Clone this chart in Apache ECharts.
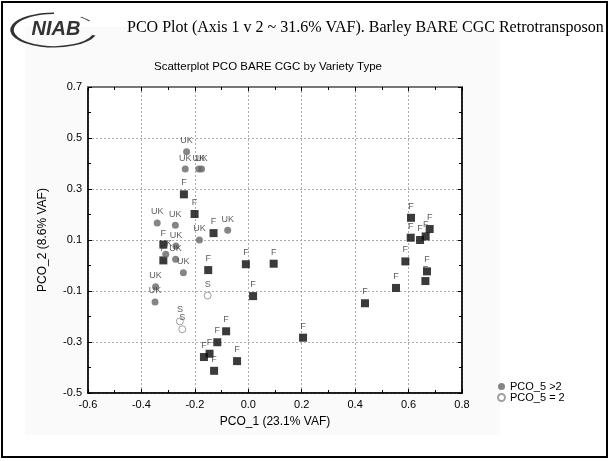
<!DOCTYPE html>
<html><head><meta charset="utf-8">
<script src="https://cdn.jsdelivr.net/npm/echarts@6/dist/echarts.min.js"></script>
<style>html,body{margin:0;padding:0;background:#fff}#c{width:610px;height:461px}</style>
</head><body><div id="c"></div>
<script>
// UK points (PCO_5 > 2)
const ukX = [-0.231,-0.236,-0.185,-0.175,-0.341,-0.273,-0.077,-0.183,-0.271,-0.309,-0.272,-0.243,-0.347,-0.349];
const ukY = [0.446,0.378,0.378,0.378,0.167,0.158,0.138,0.100,0.076,0.044,0.025,-0.028,-0.083,-0.143];
// F points
const fX = [-0.241,-0.201,-0.130,-0.318,-0.318,-0.150,-0.009,0.095,0.018,-0.083,-0.116,0.205,-0.145,-0.166,-0.042,-0.128,0.609,0.608,0.643,0.664,0.679,0.588,0.669,0.663,0.553,0.437];
const fY = [0.279,0.202,0.127,0.082,0.020,-0.018,0.005,0.007,-0.120,-0.258,-0.301,-0.283,-0.346,-0.359,-0.375,-0.413,0.187,0.109,0.100,0.114,0.143,0.016,-0.023,-0.061,-0.088,-0.148];
// S points (PCO_5 = 2)
const sX = [-0.152,-0.256,-0.247];
const sY = [-0.118,-0.219,-0.250];
const legendNames = ['PCO_5 >2','PCO_5 = 2'];
const titleText = 'PCO Plot (Axis 1 v 2 ~ 31.6% VAF). Barley BARE CGC Retrotransposon';
const chartTitle = 'Scatterplot PCO BARE CGC by Variety Type';
const xName = 'PCO_1 (23.1% VAF)';
const yName = 'PCO_2 (8.6% VAF)';

const zip = (a,b)=>a.map((v,i)=>[v,b[i]]);
const font = 'Liberation Sans, Arial, sans-serif';
const lbl = (t)=>({show:true,formatter:t,position:'top',distance:3,fontSize:9,color:'#333',fontFamily:font});

const chart = echarts.init(document.getElementById('c'),null,{renderer:'canvas'});
const tick = {show:true,inside:true,length:4,lineStyle:{color:'#000'}};
const minor = {show:true,splitNumber:2,length:3,lineStyle:{color:'#000'}};
const grid = {show:true,lineStyle:{color:'#aaa',type:[2,2],width:1}};
chart.setOption({
  animation:false,
  graphic:[
    {type:'rect',shape:{x:2,y:2,width:605,height:455},style:{fill:'#fff',stroke:'#000',lineWidth:2},z:-10},
    {type:'rect',shape:{x:25,y:27,width:475,height:408},style:{fill:'#fafafa'},z:-9},
    {type:'arc',x:54,y:30,scaleY:0.4,shape:{cx:0,cy:0,r:42,startAngle:Math.PI*0.1,endAngle:Math.PI*1.5},style:{stroke:'#333',lineWidth:3.5,fill:null},z:5},
    {type:'arc',x:54,y:30,scaleY:0.4,shape:{cx:0,cy:0,r:42,startAngle:Math.PI*1.72,endAngle:Math.PI*1.82},style:{stroke:'#444',lineWidth:2,fill:null},z:5},
    {type:'text',x:56,y:29,style:{text:'NIAB',font:'italic 900 20px Liberation Sans, Arial, sans-serif',fill:'#333',textAlign:'center',textVerticalAlign:'middle'},z:6},
    {type:'text',x:127,y:28,style:{text:titleText,font:'16px Liberation Serif, Times New Roman, serif',fill:'#000',textVerticalAlign:'middle'}},
    {type:'text',x:268,y:67,style:{text:chartTitle,font:'11.5px '+font,fill:'#000',textAlign:'center',textVerticalAlign:'middle'}}
  ],
  grid:{left:88,right:148,top:87,bottom:68,show:true,borderColor:'#777',borderWidth:2,backgroundColor:'#fff'},
  legend:{
    data:legendNames,orient:'vertical',left:492,top:376,itemWidth:7,itemHeight:7,itemGap:0,
    textStyle:{fontSize:11,fontFamily:font,color:'#000',lineHeight:10}
  },
  xAxis:[
    {type:'value',min:-0.6,max:0.8,interval:0.2,position:'bottom',
      axisLine:{show:true,onZero:false,lineStyle:{color:'#000',width:1.5}},axisTick:tick,minorTick:minor,splitLine:grid,
      name:xName,nameLocation:'middle',nameGap:23,nameTextStyle:{fontSize:12,fontFamily:font,color:'#000'},
      axisLabel:{color:'#000',fontSize:11,fontFamily:font,margin:6,formatter:v=>v.toFixed(1)}},
    {type:'value',min:-0.6,max:0.8,interval:0.2,position:'top',
      axisLine:{show:true,onZero:false,lineStyle:{color:'#777',width:2}},axisTick:tick,minorTick:minor,axisLabel:{show:false},splitLine:{show:false}}
  ],
  yAxis:[
    {type:'value',min:-0.5,max:0.7,interval:0.2,position:'left',
      axisLine:{show:true,onZero:false,lineStyle:{color:'#000',width:1.5}},axisTick:tick,minorTick:minor,splitLine:grid,
      name:yName,nameLocation:'middle',nameGap:39,nameTextStyle:{fontSize:12,fontFamily:font,color:'#000'},
      axisLabel:{color:'#000',fontSize:11,fontFamily:font,margin:6,formatter:v=>v.toFixed(1)}},
    {type:'value',min:-0.5,max:0.7,interval:0.2,position:'right',
      axisLine:{show:true,onZero:false,lineStyle:{color:'#000',width:1.5}},axisTick:tick,minorTick:minor,axisLabel:{show:false},splitLine:{show:false}}
  ],
  series:[
    {name:'F',type:'scatter',data:zip(fX,fY),symbol:'rect',symbolSize:8,itemStyle:{color:'#0a0a0a'},label:lbl('F'),z:3},
    {name:legendNames[0],type:'scatter',data:zip(ukX,ukY),symbol:'circle',symbolSize:7,itemStyle:{color:'#666'},label:lbl('UK'),z:4},
    {name:legendNames[1],type:'scatter',data:zip(sX,sY),symbol:'circle',symbolSize:7,itemStyle:{color:'#fff',borderColor:'#888',borderWidth:1},label:lbl('S'),z:4}
  ]
});
</script></body></html>
